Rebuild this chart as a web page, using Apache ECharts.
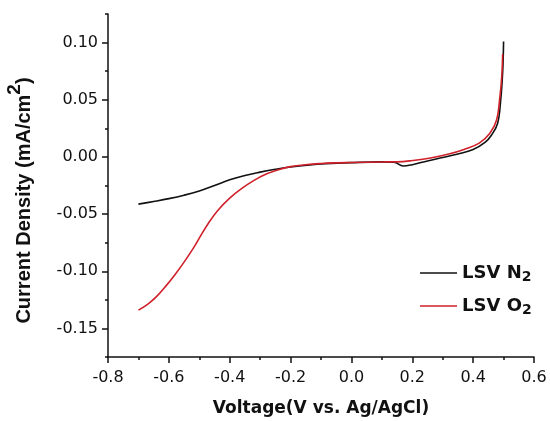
<!DOCTYPE html>
<html>
<head>
<meta charset="utf-8">
<script src="https://cdn.jsdelivr.net/npm/echarts@6/dist/echarts.min.js"></script>
<style>
  html, body { margin: 0; padding: 0; background: #fff; }
  #chart { width: 550px; height: 421px; }
</style>
</head>
<body>
<div id="chart"></div>
<script>
// LSV under N2 (black) and O2 (red)
const n2Voltage = [-0.70, -0.65, -0.60, -0.55, -0.50, -0.45, -0.40, -0.35, -0.30, -0.25, -0.20, -0.10, 0.00, 0.10, 0.14, 0.17, 0.20, 0.25, 0.30, 0.35, 0.40, 0.44, 0.46, 0.48, 0.49, 0.497, 0.50];
const n2Current = [-0.0413, -0.0390, -0.0365, -0.0335, -0.0298, -0.0250, -0.0200, -0.0162, -0.0133, -0.0108, -0.0088, -0.0062, -0.0050, -0.0043, -0.0046, -0.0080, -0.0068, -0.0035, -0.0005, 0.0025, 0.0065, 0.0130, 0.0190, 0.0290, 0.0480, 0.0740, 0.1010];

const o2Voltage = [-0.70, -0.67, -0.64, -0.61, -0.58, -0.55, -0.52, -0.50, -0.47, -0.44, -0.40, -0.36, -0.32, -0.28, -0.24, -0.20, -0.15, -0.10, -0.05, 0.00, 0.10, 0.15, 0.20, 0.26, 0.32, 0.37, 0.42, 0.455, 0.477, 0.488, 0.494, 0.497];
const o2Current = [-0.134, -0.129, -0.122, -0.113, -0.103, -0.092, -0.080, -0.071, -0.058, -0.047, -0.036, -0.0275, -0.0205, -0.0150, -0.0112, -0.0085, -0.0068, -0.0058, -0.0052, -0.0049, -0.0044, -0.0043, -0.0032, -0.0010, 0.0025, 0.0065, 0.0120, 0.0207, 0.0323, 0.0527, 0.0702, 0.0900];

const yMajorTicks = [-0.15, -0.10, -0.05, 0.00, 0.05, 0.10];

const ink = "#111";
const red = "#d0202a";
const gridRect = { left: 108, right: 16, top: 14, bottom: 64, outerBoundsMode: "none" };
const tickFont = { color: ink, fontSize: 16, fontFamily: "DejaVu Sans" };

const zip = (xs, ys) => xs.map((x, i) => [x, ys[i]]);

const chart = echarts.init(document.getElementById("chart"));

chart.setOption({
  animation: false,
  grid: [gridRect, gridRect],
  legend: {
    orient: "vertical",
    left: 415,
    top: 259,
    icon: "rect",
    itemWidth: 37,
    itemHeight: 1.6,
    itemGap: 13,
    data: ["LSV N2", "LSV O2"],
    formatter: (name) => "{a|" + name.slice(0, -1) + "}{s|2}",
    textStyle: {
      color: ink,
      rich: {
        a: { fontSize: 18, fontWeight: "bold", fontFamily: "DejaVu Sans", color: ink },
        s: { fontSize: 14, fontWeight: "bold", fontFamily: "DejaVu Sans", color: ink, padding: [8, 0, 0, 0] },
      },
    },
  },
  xAxis: [
    {
      type: "value",
      min: -0.8,
      max: 0.6,
      interval: 0.2,
      name: "Voltage(V vs. Ag/AgCl)",
      nameLocation: "middle",
      nameGap: 43,
      nameTextStyle: { color: ink, fontSize: 17, fontWeight: "bold", fontFamily: "DejaVu Sans" },
      axisLine: { onZero: false, lineStyle: { color: ink, width: 1.5 } },
      axisTick: { length: 6, lineStyle: { color: ink, width: 1.5 } },
      minorTick: { show: true, splitNumber: 2, length: 3, lineStyle: { color: ink, width: 1.5 } },
      axisLabel: { ...tickFont, margin: 13, formatter: (v) => v.toFixed(1) },
      splitLine: { show: false },
    },
    {
      type: "value",
      gridIndex: 1,
      min: -0.8,
      max: 0.6,
      show: false,
    },
  ],
  yAxis: [
    {
      type: "value",
      min: -0.175,
      max: 0.125,
      name: "Current Density (mA/cm{sup|2})",
      nameLocation: "middle",
      nameGap: 64,
      nameTextStyle: {
        color: ink,
        fontSize: 20,
        fontWeight: "bold",
        fontFamily: "Liberation Sans",
        padding: [0, 30, 0, 0],
        rich: {
          sup: { fontSize: 19, fontWeight: "bold", fontFamily: "Liberation Sans", color: ink, padding: [0, 0, 20, 0] },
        },
      },
      axisLine: { onZero: false, lineStyle: { color: ink, width: 1.5 } },
      axisTick: { length: 6, customValues: yMajorTicks, lineStyle: { color: ink, width: 1.5 } },
      axisLabel: { ...tickFont, margin: 10, customValues: yMajorTicks, formatter: (v) => v.toFixed(2) },
      splitLine: { show: false },
    },
    {
      // minor ticks every 0.025
      type: "value",
      gridIndex: 1,
      min: -0.175,
      max: 0.125,
      interval: 0.025,
      axisLine: { show: false, onZero: false },
      axisTick: { length: 3, lineStyle: { color: ink, width: 1.5 } },
      axisLabel: { show: false },
      splitLine: { show: false },
    },
  ],
  series: [
    {
      name: "LSV N2",
      type: "line",
      data: zip(n2Voltage, n2Current),
      symbol: "none",
      smooth: 0.4,
      lineStyle: { color: ink, width: 1.6 },
      itemStyle: { color: ink },
    },
    {
      name: "LSV O2",
      type: "line",
      data: zip(o2Voltage, o2Current),
      symbol: "none",
      smooth: 0.4,
      lineStyle: { color: red, width: 1.6 },
      itemStyle: { color: red },
    },
  ],
});
</script>
</body>
</html>
